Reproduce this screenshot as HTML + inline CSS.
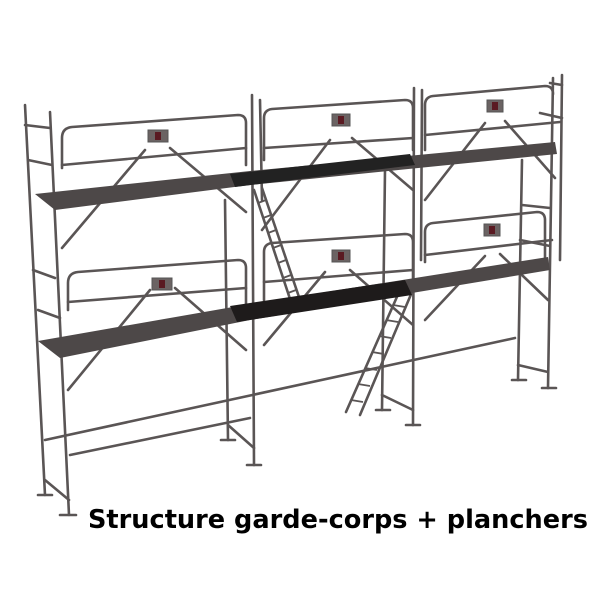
<!DOCTYPE html>
<html><head><style>
html,body{margin:0;padding:0;background:#fff;width:600px;height:600px;overflow:hidden}
svg{position:absolute;left:0;top:0}
</style></head><body>
<svg width="600" height="600" viewBox="0 0 600 600" xmlns="http://www.w3.org/2000/svg">
<g stroke="#5a5555" stroke-width="2.6" fill="none" stroke-linecap="round">
<line x1="45" y1="440" x2="515" y2="338"/>
<line x1="70" y1="455" x2="250" y2="418"/>
<line x1="25" y1="105" x2="45" y2="495"/>
<line x1="50" y1="112" x2="69" y2="515"/>
<line x1="225" y1="200" x2="228" y2="440"/>
<line x1="252" y1="95" x2="254" y2="465"/>
<line x1="260" y1="100" x2="262" y2="200"/>
<line x1="385" y1="170" x2="382" y2="410"/>
<line x1="414" y1="88" x2="413" y2="425"/>
<line x1="422" y1="90" x2="421" y2="260"/>
<line x1="522" y1="160" x2="518" y2="380"/>
<line x1="553" y1="78" x2="548" y2="388"/>
<line x1="562" y1="75" x2="560" y2="260"/>
<line x1="38" y1="495" x2="52" y2="495"/><line x1="60" y1="515" x2="76" y2="515"/>
<line x1="221" y1="440" x2="235" y2="440"/><line x1="247" y1="465" x2="261" y2="465"/>
<line x1="376" y1="410" x2="390" y2="410"/><line x1="406" y1="425" x2="420" y2="425"/>
<line x1="512" y1="380" x2="526" y2="380"/><line x1="542" y1="388" x2="556" y2="388"/>
<line x1="45" y1="480" x2="69" y2="500"/><line x1="228" y1="425" x2="254" y2="448"/>
<line x1="382" y1="395" x2="413" y2="410"/><line x1="518" y1="365" x2="548" y2="372"/>
<path d="M62 168 V138 Q62 128 72 127 L238 115 Q246 115 246 123 V165"/>
<line x1="62" y1="165" x2="246" y2="148"/>
<path d="M264 160 V118 Q264 110 272 109 L405 100 Q413 100 413 108 V150"/>
<line x1="264" y1="148" x2="413" y2="138"/>
<path d="M425 150 V105 Q425 97 433 96 L545 86 Q553 86 553 94"/>
<line x1="425" y1="135" x2="560" y2="122"/>
<line x1="25" y1="125" x2="50" y2="128"/><line x1="28" y1="160" x2="52" y2="165"/>
<line x1="550" y1="83" x2="562" y2="85"/><line x1="540" y1="113" x2="562" y2="118"/>
<line x1="145" y1="150" x2="62" y2="248"/><line x1="170" y1="148" x2="246" y2="212"/>
<line x1="330" y1="140" x2="262" y2="230"/><line x1="352" y1="138" x2="413" y2="190"/>
<line x1="485" y1="123" x2="425" y2="200"/><line x1="505" y1="121" x2="555" y2="178"/>
<path d="M68 310 V283 Q68 273 78 272 L238 260 Q246 260 246 268 V315"/>
<line x1="68" y1="302" x2="246" y2="288"/>
<path d="M264 300 V252 Q264 244 272 243 L405 234 Q413 234 413 242 V285"/>
<line x1="264" y1="282" x2="413" y2="270"/>
<path d="M425 262 V232 Q425 224 433 223 L537 212 Q545 212 545 220 V260"/>
<line x1="425" y1="255" x2="552" y2="240"/>
<line x1="33" y1="270" x2="55" y2="278"/><line x1="38" y1="310" x2="60" y2="318"/>
<line x1="522" y1="205" x2="550" y2="208"/><line x1="520" y1="240" x2="550" y2="246"/>
<line x1="150" y1="290" x2="68" y2="390"/><line x1="175" y1="288" x2="246" y2="350"/>
<line x1="325" y1="272" x2="264" y2="345"/><line x1="350" y1="270" x2="413" y2="325"/>
<line x1="485" y1="256" x2="425" y2="320"/><line x1="500" y1="254" x2="548" y2="300"/>
<line x1="254" y1="190" x2="292" y2="305"/><line x1="262" y1="188" x2="300" y2="300"/>
<line x1="400" y1="290" x2="346" y2="412"/><line x1="412" y1="292" x2="360" y2="415"/>
</g>
<g stroke="#5a5555" stroke-width="1.8">
<line x1="258" y1="203" x2="266" y2="200"/><line x1="263" y1="218" x2="271" y2="215"/>
<line x1="268" y1="233" x2="276" y2="230"/><line x1="273" y1="248" x2="281" y2="245"/>
<line x1="278" y1="263" x2="286" y2="260"/><line x1="283" y1="278" x2="291" y2="275"/>
<line x1="288" y1="293" x2="296" y2="290"/>
<line x1="393" y1="305" x2="405" y2="307"/><line x1="386" y1="320" x2="398" y2="322"/>
<line x1="379" y1="336" x2="391" y2="338"/><line x1="372" y1="352" x2="384" y2="354"/>
<line x1="365" y1="368" x2="377" y2="370"/><line x1="358" y1="384" x2="370" y2="386"/>
<line x1="351" y1="400" x2="363" y2="402"/>
</g>
<polygon points="35,194 250,171 555,142 557,154 250,185 55,210" fill="#4d4848"/>
<polygon points="230,174 410,154 415,165 235,187" fill="#222"/>
<polygon points="38,341 250,304 548,257 550,270 250,320 60,358" fill="#4d4848"/>
<polygon points="230,306 405,280 412,295 237,322" fill="#1e1b1b"/>
<g fill="#6b6363" stroke="#555" stroke-width="1">
<rect x="148" y="130" width="20" height="12"/><rect x="332" y="114" width="18" height="12"/>
<rect x="487" y="100" width="16" height="12"/><rect x="152" y="278" width="20" height="12"/>
<rect x="332" y="250" width="18" height="12"/><rect x="484" y="224" width="16" height="12"/>
</g>
<g fill="#5a1a22">
<rect x="155" y="132" width="6" height="8"/><rect x="338" y="116" width="6" height="8"/>
<rect x="492" y="102" width="6" height="8"/><rect x="159" y="280" width="6" height="8"/>
<rect x="338" y="252" width="6" height="8"/><rect x="489" y="226" width="6" height="8"/>
</g>
<text x="88" y="528" font-family="DejaVu Sans, sans-serif" font-weight="bold" font-size="26" fill="#000" textLength="500" lengthAdjust="spacingAndGlyphs">Structure garde-corps + planchers</text>
</svg>
</body></html>
